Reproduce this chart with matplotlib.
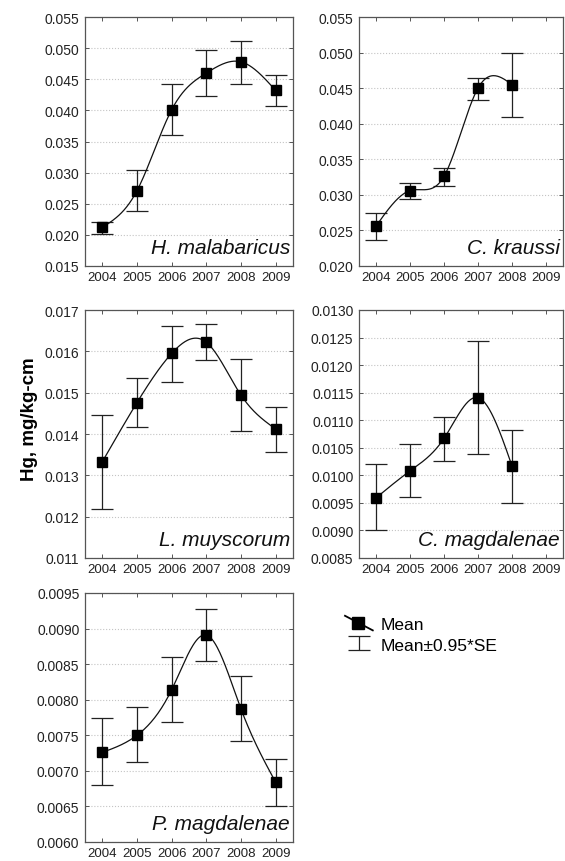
import matplotlib
matplotlib.use("Agg")
import matplotlib.pyplot as plt
from matplotlib.legend_handler import HandlerErrorbar
from matplotlib.lines import Line2D
from matplotlib.ticker import MultipleLocator, FormatStrFormatter
import numpy as np

plt.rcParams["font.family"] = ["Liberation Sans", "DejaVu Sans"]

YEARS = [2004, 2005, 2006, 2007, 2008, 2009]

# H. malabaricus
hm_mean = [0.0212, 0.0271, 0.0401, 0.0460, 0.0478, 0.0432]
hm_low = [0.0201, 0.0238, 0.0361, 0.0423, 0.0443, 0.0407]
hm_high = [0.0221, 0.0304, 0.0442, 0.0497, 0.0511, 0.0457]

# C. kraussi (no 2009 data)
ck_mean = [0.0256, 0.0306, 0.0326, 0.0450, 0.0455]
ck_low = [0.0236, 0.0294, 0.0312, 0.0433, 0.0410]
ck_high = [0.0275, 0.0317, 0.0338, 0.0464, 0.0500]

# L. muyscorum
lm_mean = [0.01333, 0.01476, 0.01595, 0.01622, 0.01494, 0.01412]
lm_low = [0.01218, 0.01416, 0.01527, 0.01578, 0.01407, 0.01357]
lm_high = [0.01447, 0.01536, 0.01662, 0.01666, 0.01582, 0.01466]

# C. magdalenae (no 2009 data)
cm_mean = [0.00959, 0.01008, 0.01067, 0.01141, 0.01017]
cm_low = [0.00900, 0.00960, 0.01026, 0.01038, 0.00949]
cm_high = [0.01020, 0.01057, 0.01106, 0.01244, 0.01082]

# P. magdalenae
pm_mean = [0.00726, 0.00750, 0.00814, 0.00891, 0.00787, 0.00684]
pm_low = [0.00680, 0.00712, 0.00769, 0.00855, 0.00742, 0.00651]
pm_high = [0.00774, 0.00790, 0.00860, 0.00927, 0.00833, 0.00717]

PANELS = [
    ("H. malabaricus", hm_mean, hm_low, hm_high, (0.015, 0.055), 0.005, "%.3f"),
    ("C. kraussi", ck_mean, ck_low, ck_high, (0.020, 0.055), 0.005, "%.3f"),
    ("L. muyscorum", lm_mean, lm_low, lm_high, (0.011, 0.017), 0.001, "%.3f"),
    ("C. magdalenae", cm_mean, cm_low, cm_high, (0.0085, 0.0130), 0.0005, "%.4f"),
    ("P. magdalenae", pm_mean, pm_low, pm_high, (0.0060, 0.0095), 0.0005, "%.4f"),
]

W, H = 565, 862
BOXES = [
    (85, 18, 293, 267),
    (359, 18, 563, 267),
    (85, 311, 293, 559),
    (359, 311, 563, 559),
    (85, 594, 293, 843),
]


def natural_spline(x, y, n=200):
    x = np.asarray(x, float)
    y = np.asarray(y, float)
    k = len(x)
    h = np.diff(x)
    A = np.zeros((k, k))
    b = np.zeros(k)
    A[0, 0] = A[-1, -1] = 1.0
    for i in range(1, k - 1):
        A[i, i - 1] = h[i - 1]
        A[i, i] = 2 * (h[i - 1] + h[i])
        A[i, i + 1] = h[i]
        b[i] = 3 * ((y[i + 1] - y[i]) / h[i] - (y[i] - y[i - 1]) / h[i - 1])
    c = np.linalg.solve(A, b)
    xs = np.linspace(x[0], x[-1], n)
    idx = np.clip(np.searchsorted(x, xs) - 1, 0, k - 2)
    dx = xs - x[idx]
    bb = (y[1:] - y[:-1]) / h - h * (2 * c[:-1] + c[1:]) / 3
    dd = (c[1:] - c[:-1]) / (3 * h)
    ys = y[idx] + bb[idx] * dx + c[idx] * dx ** 2 + dd[idx] * dx ** 3
    return xs, ys


class MeanHandler:
    # square marker with a diagonal line through it, like the original legend
    def legend_artist(self, legend, orig_handle, fontsize, handlebox):
        x0, y0 = handlebox.xdescent, handlebox.ydescent
        w, h = handlebox.width, handlebox.height
        line = Line2D([x0, x0 + w], [y0 + h * 1.1, y0 - h * 0.1], color="black", lw=1.3,
                      transform=handlebox.get_transform())
        mark = Line2D([x0 + w * 0.45], [y0 + h * 0.5], ls="none", marker="s", ms=8,
                      color="black", transform=handlebox.get_transform())
        handlebox.add_artist(line)
        handlebox.add_artist(mark)
        return mark


fig = plt.figure(figsize=(W / 100, H / 100), dpi=100)

err_handle = None
for (name, mean, low, high, ylim, step, fmt), (x0, y0, x1, y1) in zip(PANELS, BOXES):
    ax = fig.add_axes([x0 / W, 1 - y1 / H, (x1 - x0) / W, (y1 - y0) / H])
    yrs = YEARS[: len(mean)]
    mean_a = np.array(mean)
    yerr = [mean_a - np.array(low), np.array(high) - mean_a]

    xs, ys = natural_spline(yrs, mean)
    ax.plot(xs, ys, color="#111111", lw=0.9, zorder=3)
    eb = ax.errorbar(yrs, mean, yerr=yerr, fmt="none", ecolor="#222222",
                     elinewidth=0.9, capsize=8, capthick=0.9, zorder=2)
    err_handle = eb
    ax.plot(yrs, mean, ls="none", marker="s", ms=7.2, color="black", zorder=4)

    ax.set_xlim(2003.5, 2009.5)
    ax.set_ylim(*ylim)
    ax.set_xticks(YEARS)
    ax.yaxis.set_major_locator(MultipleLocator(step))
    ax.yaxis.set_major_formatter(FormatStrFormatter(fmt))
    ax.grid(axis="y", color="#c4c4c4", ls=":", lw=0.8)
    ax.set_axisbelow(True)
    ax.tick_params(direction="in", length=3, width=0.7, color="#555555",
                   top=True, right=True, labelcolor="#222222")
    ax.tick_params(axis="y", labelsize=10, pad=4)
    ax.tick_params(axis="x", labelsize=9.5, pad=3.5)
    for sp in ax.spines.values():
        sp.set_color("#555555")
        sp.set_linewidth(0.9)
    ax.text(0.985, 0.035, name, transform=ax.transAxes, ha="right", va="bottom",
            fontsize=15, style="italic", color="#111111")

fig.text(29 / W, 1 - 419 / H, "Hg, mg/kg-cm", rotation=90, ha="center", va="center",
         fontsize=13.5, fontweight="bold")

fig.legend([object(), err_handle], ["Mean", "Mean\u00b10.95*SE"],
           handler_map={object: MeanHandler(), type(err_handle): HandlerErrorbar(yerr_size=0.4)},
           loc="upper left", bbox_to_anchor=(345 / W, 1 - 618 / H),
           frameon=False, fontsize=12.5, handlelength=1.6, handletextpad=0.45,
           labelspacing=0.3, borderaxespad=0, borderpad=0)

fig.savefig("out.png", dpi=100)
